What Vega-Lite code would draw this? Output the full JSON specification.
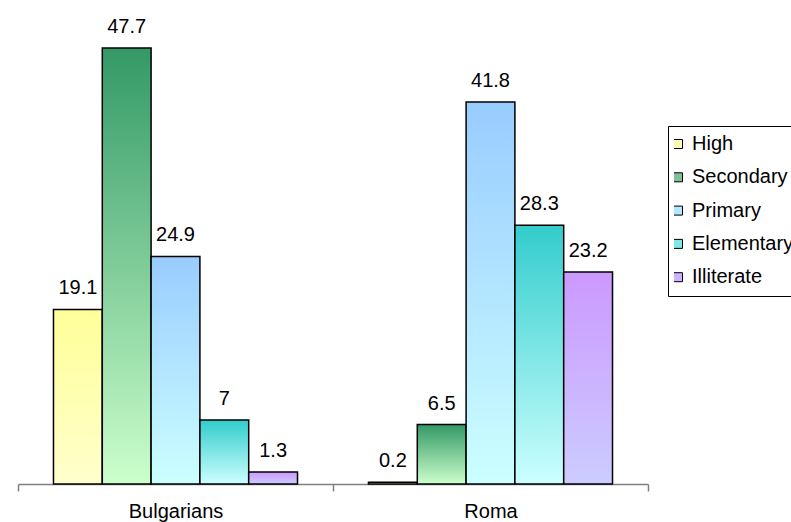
{
  "$schema": "https://vega.github.io/schema/vega-lite/v6.json",
  "width": 630,
  "height": 457,
  "autosize": {"type": "none"},
  "padding": {"left": 18, "top": 27, "right": 143, "bottom": 38},
  "config": {"view": {"stroke": null}, "font": "Liberation Sans"},
  "params": [
    {
      "name": "grad",
      "expr": "{High: {gradient: 'linear', x1: 0, y1: 0, x2: 0, y2: 1, stops: [{offset: 0, color: '#FFFF99'}, {offset: 1, color: '#FFFFCC'}]}, Secondary: {gradient: 'linear', x1: 0, y1: 0, x2: 0, y2: 1, stops: [{offset: 0, color: '#339966'}, {offset: 1, color: '#CCFFCC'}]}, Primary: {gradient: 'linear', x1: 0, y1: 0, x2: 0, y2: 1, stops: [{offset: 0, color: '#99CCFF'}, {offset: 1, color: '#CCFFFF'}]}, Elementary: {gradient: 'linear', x1: 0, y1: 0, x2: 0, y2: 1, stops: [{offset: 0, color: '#33CCCC'}, {offset: 1, color: '#CCFFFF'}]}, Illiterate: {gradient: 'linear', x1: 0, y1: 0, x2: 0, y2: 1, stops: [{offset: 0, color: '#CC99FF'}, {offset: 1, color: '#CCCCFF'}]}}"
    }
  ],
  "data": {
    "values": [
      {"group": "Bulgarians", "level": "High", "pct": 19.1},
      {"group": "Bulgarians", "level": "Secondary", "pct": 47.7},
      {"group": "Bulgarians", "level": "Primary", "pct": 24.9},
      {"group": "Bulgarians", "level": "Elementary", "pct": 7},
      {"group": "Bulgarians", "level": "Illiterate", "pct": 1.3},
      {"group": "Roma", "level": "High", "pct": 0.2},
      {"group": "Roma", "level": "Secondary", "pct": 6.5},
      {"group": "Roma", "level": "Primary", "pct": 41.8},
      {"group": "Roma", "level": "Elementary", "pct": 28.3},
      {"group": "Roma", "level": "Illiterate", "pct": 23.2}
    ]
  },
  "encoding": {
    "x": {
      "field": "group",
      "type": "nominal",
      "sort": ["Bulgarians", "Roma"],
      "scale": {"paddingInner": 0, "paddingOuter": 0},
      "axis": {
        "title": null,
        "labelAngle": 0,
        "labelFontSize": 20,
        "labelColor": "black",
        "domainColor": "#808080",
        "domainWidth": 1.5,
        "tickColor": "#808080",
        "tickWidth": 1.5,
        "tickBand": "extent",
        "tickSize": 7,
        "labelPadding": 10
      }
    },
    "xOffset": {
      "field": "level",
      "type": "nominal",
      "sort": ["High", "Secondary", "Primary", "Elementary", "Illiterate"],
      "scale": {"paddingInner": 0, "paddingOuter": 0.727}
    },
    "y": {
      "field": "pct",
      "type": "quantitative",
      "scale": {"domain": [0, 50], "nice": false},
      "axis": null
    }
  },
  "layer": [
    {
      "mark": {"type": "bar", "stroke": "black", "strokeWidth": 1.5, "fill": {"expr": "grad[datum.level]"}}
    },
    {
      "mark": {"type": "bar", "opacity": 0},
      "encoding": {
        "color": {
          "field": "level",
          "type": "nominal",
          "sort": ["High", "Secondary", "Primary", "Elementary", "Illiterate"],
          "scale": {
            "domain": ["High", "Secondary", "Primary", "Elementary", "Illiterate"],
            "range": ["#FFFFB3", "#80C099", "#B3E6FF", "#80E6E6", "#CCB3FF"]
          },
          "legend": {
            "title": null,
            "orient": "none",
            "legendX": 650,
            "legendY": 99,
            "padding": 6,
            "strokeColor": "black",
            "fillColor": "white",
            "symbolType": "square",
            "symbolSize": 81,
            "symbolOffset": -6,
            "symbolOpacity": 1,
            "labelFontSize": 20,
            "labelColor": "black",
            "labelOffset": 4,
            "clipHeight": 24,
            "rowPadding": 9.3,
            "encode": {
              "symbols": {
                "update": {
                  "fill": {"signal": "grad[datum.value]"},
                  "stroke": {"value": "black"},
                  "strokeWidth": {"value": 1},
                  "opacity": {"value": 1},
                  "fillOpacity": {"value": 1},
                  "strokeOpacity": {"value": 1}
                }
              }
            }
          }
        }
      }
    },
    {
      "mark": {"type": "text", "baseline": "alphabetic", "dy": -15, "fontSize": 20, "color": "black"},
      "encoding": {
        "text": {"field": "pct", "type": "quantitative", "format": ""}
      }
    }
  ]
}
